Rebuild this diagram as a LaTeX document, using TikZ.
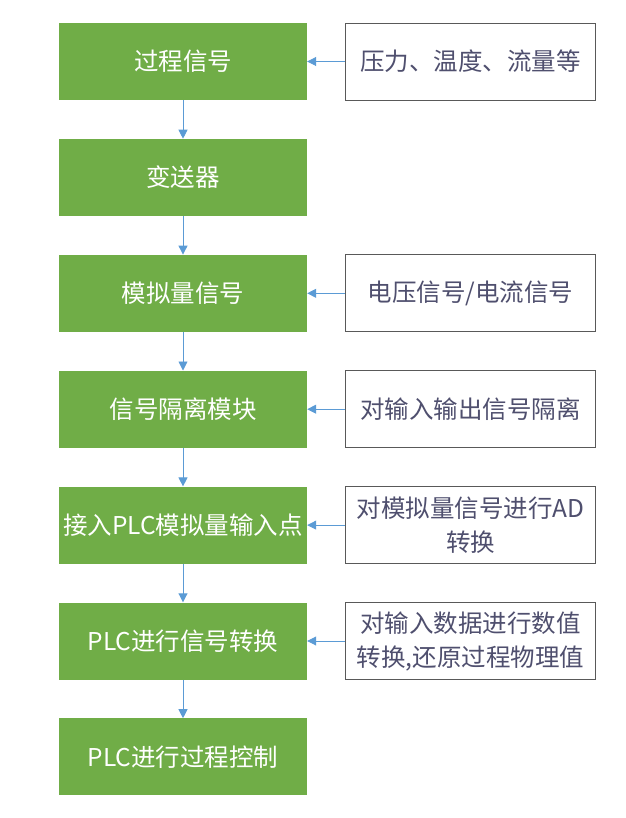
\documentclass[tikz,border=0pt]{standalone}
\usepackage{fontspec}
\setmainfont{Noto Sans CJK SC}
\usetikzlibrary{positioning,arrows.meta}
\definecolor{stepgreen}{HTML}{70AD47}
\definecolor{linkblue}{HTML}{5B9BD5}
\definecolor{notegray}{HTML}{595959}
\definecolor{notetext}{HTML}{4F4F6E}
\tikzset{
	stepbox/.style={draw=none, fill=stepgreen, text=white, minimum width=248pt, minimum height=77pt, inner sep=0pt, font=\fontsize{24.5}{29}\selectfont},
	notebox/.style={draw=notegray, line width=0.8pt, fill=white, text=notetext, minimum width=250pt, minimum height=77pt, inner sep=0pt, align=center, font=\fontsize{24.5}{34}\selectfont},
	link/.style={draw=linkblue, line width=0.9pt, -{Triangle[length=9pt,width=9pt]}}
}
\begin{document}
\begin{tikzpicture}[node distance=38.5pt and 38pt]
	\useasboundingbox (0,0) rectangle (625pt,-818pt);
	
	%process chain
	\node[stepbox] (S1) at (183pt,-61.5pt) {过程信号};
	\node[stepbox, below=of S1] (S2) {变送器};
	\node[stepbox, below=of S2] (S3) {模拟量信号};
	\node[stepbox, below=of S3] (S4) {信号隔离模块};
	\node[stepbox, below=of S4] (S5) {接入PLC模拟量输入点};
	\node[stepbox, below=of S5] (S6) {PLC进行信号转换};
	\node[stepbox, below=of S6] (S7) {PLC进行过程控制};
	
	%notes on the right
	\node[notebox, right=of S1] (N1) {压力、温度、流量等};
	\node[notebox, right=of S3] (N3) {电压信号/电流信号};
	\node[notebox, right=of S4] (N4) {对输入输出信号隔离};
	\node[notebox, right=of S5] (N5) {对模拟量信号进行AD\\转换};
	\node[notebox, right=of S6] (N6) {对输入数据进行数值\\转换,还原过程物理值};
	
	%arrows
	\foreach \a/\b in {S1/S2, S2/S3, S3/S4, S4/S5, S5/S6, S6/S7}
		\draw[link] (\a) -- (\b);
	\foreach \n/\s in {N1/S1, N3/S3, N4/S4, N5/S5, N6/S6}
		\draw[link] (\n) -- (\s);
	
\end{tikzpicture}
\end{document}
